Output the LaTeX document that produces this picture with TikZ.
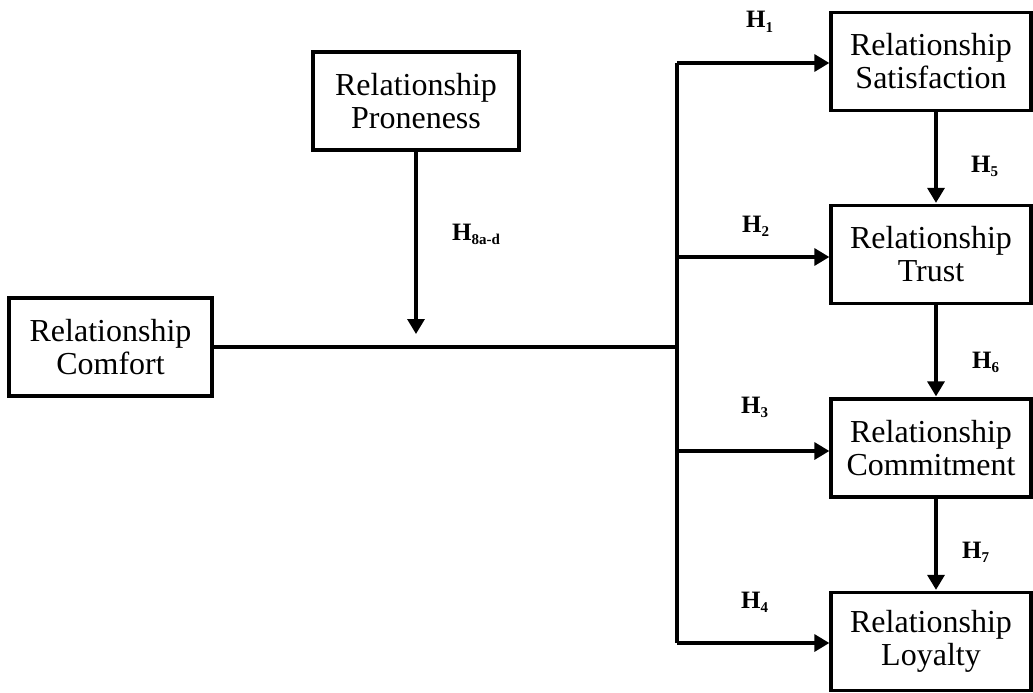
\documentclass[tikz,border=0pt]{standalone}
\usepackage{fontspec}
\setmainfont{Liberation Serif}
\usetikzlibrary{arrows.meta,calc}
\newcommand{\hsub}[1]{H\raisebox{-4.5pt}{\fontsize{15}{15}\selectfont\bfseries #1}}
\begin{document}
\begin{tikzpicture}[x=1pt,y=-1pt,
  box/.style={draw, line width=3.3pt, inner sep=0pt, align=center,
    font=\fontsize{32}{33}\selectfont, minimum height=98pt},
  conn/.style={line width=3.3pt},
  arr/.style={conn, -{Triangle[length=15pt,width=17pt]}},
  hlab/.style={font=\fontsize{25}{25}\selectfont\bfseries, inner sep=0pt, anchor=base west}]
\useasboundingbox (0,0) rectangle (1033,693);
% boxes
\node[box, minimum width=203pt] (comfort) at (110.5,347) {Relationship\\Comfort};
\node[box, minimum width=206pt] (prone) at (416,101) {Relationship\\Proneness};
\node[box, minimum width=200pt] (sat) at (931,61.5) {Relationship\\Satisfaction};
\node[box, minimum width=200pt] (trust) at (931,254.5) {Relationship\\Trust};
\node[box, minimum width=200pt] (commit) at (931,448) {Relationship\\Commitment};
\node[box, minimum width=200pt] (loyal) at (931,641.5) {Relationship\\Loyalty};
% branch coordinates
\coordinate (j) at (677,347);
\coordinate (b1) at (677,63);
\coordinate (b2) at (677,257);
\coordinate (b3) at (677,451);
\coordinate (b4) at (677,643);
\coordinate (m) at (prone.south |- 0,334);
% main line and branch
\draw[conn] (comfort.east) -- (j);
\draw[conn] (b1) -- (b4);
\draw[arr] (b1) -- (b1 -| sat.west);
\draw[arr] (b2) -- (b2 -| trust.west);
\draw[arr] (b3) -- (b3 -| commit.west);
\draw[arr] (b4) -- (b4 -| loyal.west);
% moderator
\draw[arr] (prone.south) -- (m);
% chain
\draw[arr] ($(sat.south)+(5,0)$) -- ($(trust.north)+(5,-1)$);
\draw[arr] ($(trust.south)+(5,0)$) -- ($(commit.north)+(5,-1)$);
\draw[arr] ($(commit.south)+(5,0)$) -- ($(loyal.north)+(5,-1)$);
% labels
\node[hlab] (h1) at (746,28) {\hsub{1}};
\node[hlab] (h2) at (742,232) {\hsub{2}};
\node[hlab] (h3) at (741,413) {\hsub{3}};
\node[hlab] (h4) at (741,608) {\hsub{4}};
\node[hlab] (h5) at (971,172) {\hsub{5}};
\node[hlab] (h6) at (972,368) {\hsub{6}};
\node[hlab] (h7) at (962,558) {\hsub{7}};
\node[hlab] (h8) at (452,240) {\hsub{8a-d}};
\end{tikzpicture}
\end{document}
